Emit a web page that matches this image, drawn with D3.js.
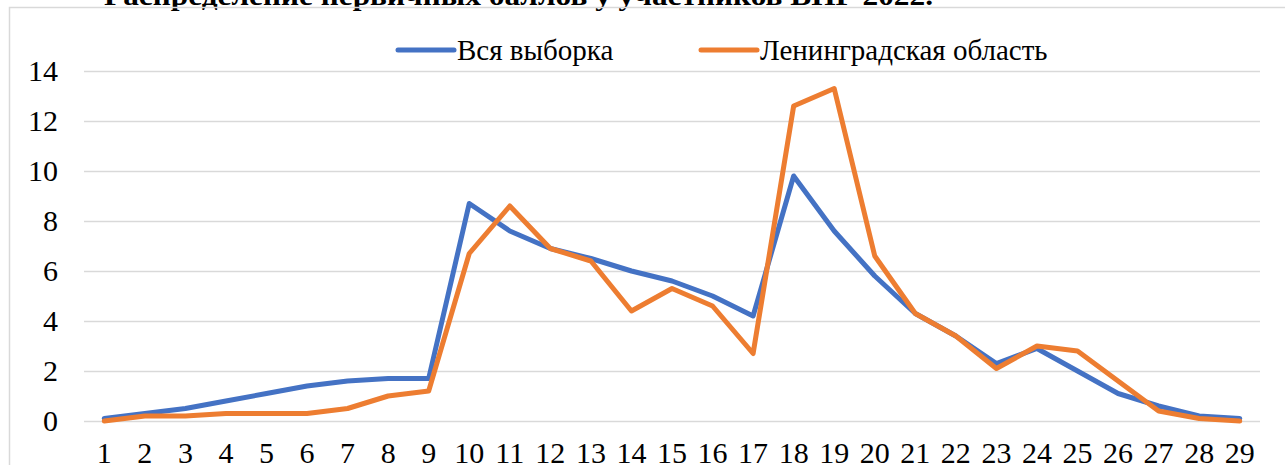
<!DOCTYPE html>
<html>
<head>
<meta charset="utf-8">
<script src="https://d3js.org/d3.v7.min.js"></script>
<style>
	body { margin: 0; background: #fff; }
	svg { display: block; }
</style>
</head>
<body>
<script>

// primary score distribution, % of participants
const scores = d3.range(1, 30).map(String);
const allSample = [0.1, 0.3, 0.5, 0.8, 1.1, 1.4, 1.6, 1.7, 1.7, 8.7,
	7.6, 6.9, 6.5, 6.0, 5.6, 5.0, 4.2, 9.8, 7.6, 5.8,
	4.3, 3.4, 2.3, 2.9, 2.0, 1.1, 0.6, 0.2, 0.1];
const leningrad = [0.0, 0.2, 0.2, 0.3, 0.3, 0.3, 0.5, 1.0, 1.2, 6.7,
	8.6, 6.9, 6.4, 4.4, 5.3, 4.6, 2.7, 12.6, 13.3, 6.6,
	4.3, 3.4, 2.1, 3.0, 2.8, 1.6, 0.4, 0.1, 0.0];
const yTicks = [0, 2, 4, 6, 8, 10, 12, 14];
const seriesNames = ["Вся выборка", "Ленинградская область"];
const seriesColors = ["#4472c4", "#ed7d31"];
const titleText = "Распределение первичных баллов у участников ВПР 2022.";

const width = 1285, height = 465;
const plotLeft = 84, plotRight = 1260, plotTop = 71, plotBottom = 421;
const serif = "'Liberation Serif', 'Times New Roman', serif";

var svg = d3.select("body")
	.append("svg")
	.attr("width", width)
	.attr("height", height);

svg.append("rect")
	.attr("width", width).attr("height", height)
	.attr("fill", "#fff");

// title sits above the chart frame and is mostly cut off
svg.append("text")
	.attr("x", 104)
	.attr("y", 5)
	.style("font-family", serif)
	.style("font-size", "28px")
	.style("font-weight", "bold")
	.attr("textLength", 829)
	.attr("lengthAdjust", "spacingAndGlyphs")
	.text(titleText);

svg.append("rect")
	.attr("x", 9.5).attr("y", 7.5)
	.attr("width", 1300).attr("height", 500)
	.attr("fill", "none")
	.attr("stroke", "#d9d9d9")
	.attr("stroke-width", 1.5);

var x = d3.scaleBand().domain(scores).range([plotLeft, plotRight]);
var y = d3.scaleLinear().domain([0, 14]).range([plotBottom, plotTop]);

var yAxis = d3.axisLeft(y)
	.tickValues(yTicks)
	.tickSize(-(plotRight - plotLeft))
	.tickPadding(26);

svg.append("g")
	.attr("transform", "translate(" + plotLeft + ",0)")
	.call(yAxis)
	.call(g => g.select(".domain").remove())
	.call(g => g.selectAll(".tick line")
		.attr("stroke", "#d9d9d9")
		.attr("stroke-width", 1.5))
	.call(g => g.selectAll(".tick text")
		.style("font-size", "30px")
		.style("font-family", serif)
		.attr("fill", "#000"));

var xAxis = d3.axisBottom(x)
	.tickSize(0)
	.tickPadding(21);

svg.append("g")
	.attr("transform", "translate(0," + plotBottom + ")")
	.call(xAxis)
	.call(g => g.select(".domain").remove())
	.call(g => g.selectAll(".tick text")
		.style("font-size", "30px")
		.style("font-family", serif)
		.attr("fill", "#000"));

var line = d3.line()
	.x((d, i) => x(scores[i]) + x.bandwidth() / 2)
	.y(d => y(d));

[allSample, leningrad].forEach((s, k) => {
	svg.append("path")
		.datum(s)
		.attr("d", line)
		.attr("fill", "none")
		.attr("stroke", seriesColors[k])
		.attr("stroke-width", 5)
		.attr("stroke-linejoin", "round")
		.attr("stroke-linecap", "round");
});

// legend
const legendX = [398, 701];
seriesNames.forEach((name, k) => {
	var g = svg.append("g").attr("transform", "translate(" + legendX[k] + ",50)");
	g.append("line")
		.attr("x1", 0).attr("x2", 56)
		.attr("stroke", seriesColors[k])
		.attr("stroke-width", 5)
		.attr("stroke-linecap", "round");
	g.append("text")
		.attr("x", 59)
		.attr("y", 10)
		.style("font-family", serif)
		.style("font-size", "29px")
		.attr("fill", "#000")
		.text(name);
});

</script>
</body>
</html>
